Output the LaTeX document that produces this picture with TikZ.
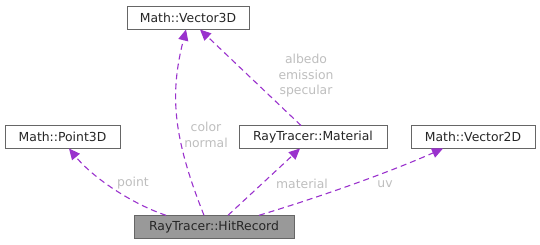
\documentclass[tikz,border=0pt]{standalone}
\usepackage{fontspec}
\setmainfont{DejaVu Sans}
\usetikzlibrary{arrows.meta}
\definecolor{edgecol}{HTML}{9A32CD}
\definecolor{labcol}{HTML}{BEBEBE}
\definecolor{boxline}{HTML}{666666}
\definecolor{boxfill}{HTML}{999999}
\begin{document}
\begin{tikzpicture}[x=1pt,y=-1pt,
  cls/.style={draw=boxline, line width=0.8pt, fill=white, inner sep=0pt,
    minimum height=23pt, font=\fontsize{12.4}{14}\selectfont, text=black!85},
  dep/.style={color=edgecol, line width=1.1pt, dash pattern=on 6pt off 4pt,
    -{Triangle[length=11pt,width=10pt]}},
  lab/.style={text=labcol, font=\fontsize{12.4}{15.5}\selectfont, align=center, inner sep=0pt}]
\useasboundingbox (0,0) rectangle (540,245);
% classes
\node[cls, minimum width=122pt] (v3) at (188,18) {Math::Vector3D};
\node[cls, minimum width=115pt] (p3) at (62.5,136.5) {Math::Point3D};
\node[cls, minimum width=148pt] (mat) at (313,137) {RayTracer::Material};
\node[cls, minimum width=124pt] (v2) at (473,137) {Math::Vector2D};
\node[cls, minimum width=160pt, fill=boxfill] (hit) at (214,226.8) {RayTracer::HitRecord};
% member links
\coordinate (hp) at (166,215.3);
\coordinate (hv) at (204,215.3);
\coordinate (hm) at (228,215.3);
\coordinate (hu) at (259,215.3);
\coordinate (mv) at (301,125.5);
\draw[dep] (hp) .. controls (135,205) and (95,180) .. (69,148.5);
\draw[dep] (hv) .. controls (172,135) and (170,93) .. (186,29.5);
\draw[dep] (mv) -- (200,29.5);
\draw[dep] (hm) -- (300,148.5);
\draw[dep] (hu) .. controls (320,197) and (390,172) .. (443,148.5);
% member names
\node[lab] (lp) at (133,183) {point};
\node[lab] (lc) at (206,135) {color\\normal};
\node[lab] (la) at (306,76) {albedo\\emission\\specular};
\node[lab] (lm) at (302,184) {material};
\node[lab] (lu) at (385,184) {uv};
\end{tikzpicture}
\end{document}
